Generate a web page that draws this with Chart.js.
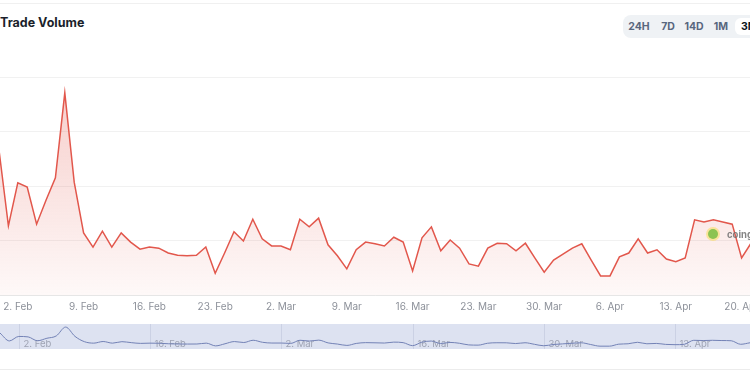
<!DOCTYPE html>
<html>
<head>
<meta charset="utf-8">
<script src="https://cdn.jsdelivr.net/npm/chart.js@4.4.1/dist/chart.umd.min.js"></script>
<style>
  html, body { margin: 0; padding: 0; background: #fff; }
  #wrap { position: relative; width: 750px; height: 375px; overflow: hidden; font-family: Inter, "Noto Sans", sans-serif; }
  .topline { position: absolute; left: 0; top: 3px; width: 750px; height: 1px; background: #f0f0f0; }
  .title { position: absolute; left: 0; top: 15px; font-size: 12.5px; font-weight: 700; color: #1b1f2b; }
  .ranges { position: absolute; left: 623px; top: 15px; width: 140px; height: 23px; background: #eff2f5; border-radius: 8px; }
  .ranges span { position: absolute; top: 0; line-height: 23px; font-size: 10.5px; font-weight: 700; color: #58667e; transform: translateX(-50%); }
  .ranges .on { top: 3px; line-height: 17px; height: 17px; padding: 0 6px; background: #fff; border-radius: 6px; transform: none; color: #0d1421; }
  #main { position: absolute; left: -7px; top: 0; }
  #nav { position: absolute; left: 0; top: 324px; }
  .botline { position: absolute; left: 0; top: 369px; width: 750px; height: 1px; background: #ececec; }
</style>
</head>
<body>
<div id="wrap">
  <div class="topline"></div>
  <div class="title">Trade Volume</div>
  <div class="ranges">
    <span style="left:16px">24H</span>
    <span style="left:45px">7D</span>
    <span style="left:71px">14D</span>
    <span style="left:98px">1M</span>
    <span class="on" style="left:112px">3M</span>
  </div>
  <canvas id="main" width="764" height="320"></canvas>
  <canvas id="nav" width="750" height="25"></canvas>
  <div class="botline"></div>
</div>
<script>
// Объём торгов по дням (31 янв – 21 апр), в условных единицах
const volumes = [
  2.66, 1.27, 2.06, 1.98, 1.30, 1.74, 2.15, 3.71, 2.07, 1.14,
  0.88, 1.17, 0.88, 1.14, 0.97, 0.84, 0.88, 0.86, 0.77, 0.73,
  0.72, 0.73, 0.88, 0.40, 0.77, 1.16, 0.99, 1.39, 1.03, 0.90,
  0.90, 0.83, 1.39, 1.25, 1.41, 0.92, 0.72, 0.48, 0.83, 0.97,
  0.94, 0.90, 1.06, 0.97, 0.44, 1.05, 1.25, 0.81, 1.01, 0.86,
  0.57, 0.53, 0.86, 0.95, 0.94, 0.81, 0.95, 0.68, 0.42, 0.64,
  0.75, 0.86, 0.94, 0.64, 0.35, 0.35, 0.70, 0.77, 1.03, 0.77,
  0.83, 0.66, 0.61, 0.68, 1.38, 1.34, 1.38, 1.34, 1.30, 0.68,
  0.95
];

const tickLabels = ['2. Feb', '9. Feb', '16. Feb', '23. Feb', '2. Mar', '9. Mar',
  '16. Mar', '23. Mar', '30. Mar', '6. Apr', '13. Apr', '20. Apr'];
const navLabels = ['2. Feb', '16. Feb', '2. Mar', '16. Mar', '30. Mar', '13. Apr'];

const monthNames = ['Jan', 'Feb', 'Mar', 'Apr', 'May', 'Jun', 'Jul', 'Aug', 'Sep', 'Oct', 'Nov', 'Dec'];

// Подписи дней для категорий
const days = volumes.map((_, i) => {
  const d = new Date(2025, 0, 31 + i);
  return d.getDate() + '. ' + monthNames[d.getMonth()];
});

const red = '#e2574c';
const fontFamily = 'Inter, "Noto Sans", sans-serif';

// Водяной знак coingecko (координаты от левого края области графика)
const watermark = {
  id: 'watermark',
  afterDatasetsDraw(chart) {
    const ctx = chart.ctx;
    const x0 = chart.chartArea.left;
    ctx.save();
    ctx.fillStyle = 'rgba(250, 220, 90, 0.55)';
    ctx.beginPath(); ctx.arc(x0 + 714, 234, 7, 0, Math.PI * 2); ctx.fill();
    ctx.fillStyle = '#8cc351';
    ctx.beginPath(); ctx.arc(x0 + 714, 234, 5, 0, Math.PI * 2); ctx.fill();
    ctx.fillStyle = 'rgba(110, 110, 110, 0.85)';
    ctx.font = '700 9.5px ' + fontFamily;
    ctx.textBaseline = 'middle';
    ctx.fillText('coingecko', x0 + 728, 235);
    ctx.restore();
  }
};

function createMainChart() {
  const ctx = document.getElementById('main').getContext('2d');
  new Chart(ctx, {
    type: 'line',
    data: {
      labels: days,
      datasets: [{
        data: volumes,
        borderColor: red,
        borderWidth: 1.5,
        pointRadius: 0,
        tension: 0,
        fill: 'origin',
        backgroundColor: (c) => {
          const area = c.chart.chartArea;
          if (!area) return 'rgba(226, 87, 76, 0.1)';
          const g = c.chart.ctx.createLinearGradient(0, area.top, 0, area.bottom);
          g.addColorStop(0, 'rgba(226, 87, 76, 0.30)');
          g.addColorStop(1, 'rgba(226, 87, 76, 0.04)');
          return g;
        }
      }]
    },
    options: {
      responsive: false,
      animation: false,
      layout: { padding: { top: 77, bottom: 1, left: 0, right: 0 } },
      plugins: { legend: { display: false }, tooltip: { enabled: false } },
      scales: {
        x: {
          grid: { display: false, drawTicks: false, tickLength: 0 },
          border: { display: true, color: '#e6e6e6' },
          ticks: {
            autoSkip: false,
            maxRotation: 0,
            padding: 6,
            color: '#8c9099',
            font: { size: 10, family: fontFamily },
            callback: function (v) {
              const l = this.getLabelForValue(v);
              return tickLabels.includes(l) ? l : '';
            }
          }
        },
        y: {
          min: 0,
          max: 4,
          ticks: { display: false, stepSize: 1, padding: 0 },
          grid: { color: '#f1f1f1', drawTicks: false, tickLength: 0 },
          border: { display: false }
        }
      }
    },
    plugins: [watermark]
  });
}

// Фон навигатора, сетка и подписи
const navBackground = {
  id: 'navBackground',
  beforeDatasetsDraw(chart) {
    const ctx = chart.ctx;
    const a = chart.chartArea;
    const x = chart.scales.x;
    ctx.save();
    ctx.fillStyle = '#dde2f1';
    ctx.fillRect(a.left, a.top, a.right - a.left, a.bottom - a.top);
    ctx.font = '9.5px ' + fontFamily;
    ctx.textBaseline = 'middle';
    navLabels.forEach(l => {
      const px = Math.round(x.getPixelForValue(days.indexOf(l))) + 0.5;
      ctx.strokeStyle = '#cbd1e4';
      ctx.lineWidth = 1;
      ctx.beginPath(); ctx.moveTo(px, a.top); ctx.lineTo(px, a.bottom); ctx.stroke();
      ctx.fillStyle = '#9ea3b3';
      ctx.fillText(l, px + 4, 20);
    });
    ctx.restore();
  }
};

function createNavigator() {
  const ctx = document.getElementById('nav').getContext('2d');
  new Chart(ctx, {
    type: 'line',
    data: {
      labels: days,
      datasets: [{
        data: volumes,
        borderColor: '#7382b6',
        borderWidth: 1,
        pointRadius: 0,
        cubicInterpolationMode: 'monotone',
        fill: false
      }]
    },
    options: {
      responsive: false,
      animation: false,
      layout: { padding: 0 },
      plugins: { legend: { display: false }, tooltip: { enabled: false } },
      scales: {
        x: { display: false },
        y: { display: false, min: -0.15, max: 4.25 }
      }
    },
    plugins: [navBackground]
  });
}

createMainChart();
createNavigator();
</script>
</body>
</html>
